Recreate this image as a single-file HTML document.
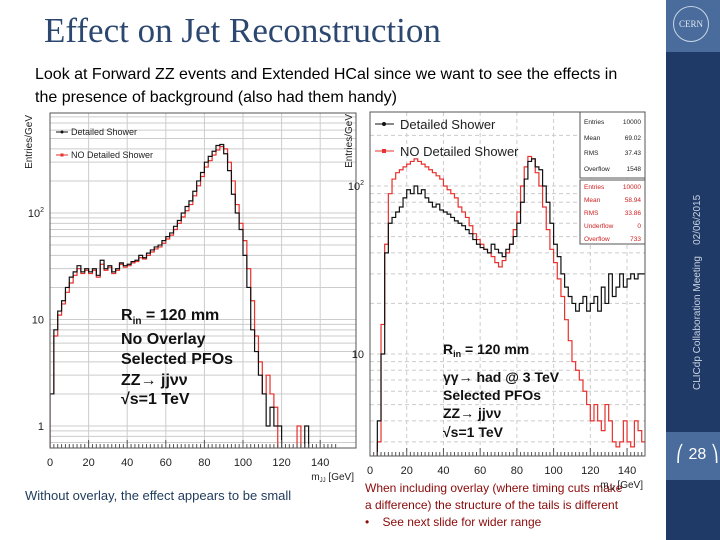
<!DOCTYPE html>
<html><head><meta charset="utf-8">
<style>
body{margin:0;width:720px;height:540px;overflow:hidden;background:#fff;font-family:"Liberation Sans",sans-serif;position:relative}
.t{position:absolute;white-space:nowrap}
</style></head>
<body>
<div class="t" style="left:44px;top:11px;font-family:'Liberation Serif',serif;font-size:35px;color:#2c4770">Effect on Jet Reconstruction</div>
<div class="t" style="left:35px;top:63px;font-size:16px;line-height:23px;color:#000">Look at Forward ZZ events and Extended HCal since we want to see the effects in<br>the presence of background (also had them handy)</div>
<div style="position:absolute;left:666px;top:0;width:54px;height:540px;background:#1f3a66"></div>
<div style="position:absolute;left:666px;top:0;width:54px;height:52px;background:#4a6c9c"></div>
<div style="position:absolute;left:673px;top:6px;width:34px;height:34px;border:1px solid #c8d4e6;border-radius:50%;color:#dfe6f0;font-size:9px;text-align:center;line-height:34px;font-family:'Liberation Serif',serif">CERN</div>
<div style="position:absolute;left:666px;top:432px;width:54px;height:48px;background:#4a6c9c"></div>
<div class="t" style="left:676px;top:444px;color:#fff;font-size:16px">⎛ 28 ⎞</div>
<div class="t" style="left:692px;top:390px;transform-origin:0 0;transform:rotate(-90deg);color:#c9d3e3;font-size:10px">CLICdp Collaboration Meeting &nbsp;&nbsp; 02/06/2015</div>
<div class="t" style="left:25px;top:488px;font-size:13px;color:#1f3a5c">Without overlay, the effect appears to be small</div>
<div class="t" style="left:365px;top:480px;font-size:12px;line-height:17px;color:#8b0a0a">When including overlay (where timing cuts make<br>a difference) the structure of the tails is different<br>•&nbsp;&nbsp;&nbsp; See next slide for wider range</div>

<svg id="chart" width="720" height="540" style="position:absolute;left:0;top:0"></svg>
<script>
const leftBlack=[2,8,12,15,20,25,28,32,28,30,28,30,26,36,30,32,28,30,34,32,33,35,36,40,38,42,45,48,50,55,60,65,75,85,100,115,130,160,200,240,300,340,380,430,440,360,250,150,100,70,40,20,8,5,3,2,1,1.5,1,1,0,0,0,0,0,0,1,0,0,0,0,0,0,0,0];
const leftRed=[2,7,11,14,18,22,26,30,27,29,27,29,25,33,29,31,27,29,33,31,32,34,35,38,37,40,43,46,48,52,57,62,70,80,92,105,120,145,180,220,270,310,350,390,420,400,300,200,120,80,55,30,15,7,4,2,3,2,1.5,0,0,0,0,0,1,0,0,0,0,0,0,0,0,0,0];
const rightBlack=[0,0,4,10,40,60,65,70,75,85,95,90,100,90,95,85,80,75,78,72,70,68,65,62,60,58,55,52,48,45,43,42,40,45,42,40,38,42,45,50,60,80,110,140,145,130,125,100,80,60,45,38,30,25,22,20,18,20,22,18,20,22,18,25,20,30,22,25,30,25,28,30,28,30,30];
const rightRed=[0,0,3,15,45,90,110,120,125,130,135,140,145,140,135,130,125,120,115,110,100,95,90,85,75,70,65,58,52,48,45,42,40,38,35,33,36,40,45,55,70,100,130,150,145,120,100,75,55,42,35,28,22,16,12,9,8,7,6,5,4,5,4,3.5,5,4,3,2.8,3,4,3,2.8,4,3.5,3];
const xTicks=[0,20,40,60,80,100,120,140];
const binW=2;
const NS="http://www.w3.org/2000/svg";
const svg=document.getElementById('chart');
function el(t,a,p){const e=document.createElementNS(NS,t);for(const k in a)e.setAttribute(k,a[k]);(p||svg).appendChild(e);return e;}
function plot(cfg){
 const g=el('g',{});
 
 
 const X=v=>cfg.x0+v*cfg.sx, Y=v=>cfg.y1-(Math.log10(v)-cfg.ly1)*cfg.dec;
 const clip=el('clipPath',{id:cfg.name+'-clip'},g);
 el('rect',{x:cfg.L,y:cfg.T,width:cfg.R-cfg.L,height:cfg.B-cfg.T},clip);
 for(const t of xTicks){const l=el('line',{x1:X(t),x2:X(t),y1:cfg.T,y2:cfg.B,stroke:'#ccc','stroke-dasharray':cfg.dash},g);}
 for(let d=-1;d<4;d++)for(let m=1;m<10;m++){const v=m*Math.pow(10,d);const y=Y(v);if(y<cfg.T||y>cfg.B)continue;const l=el('line',{x1:cfg.L,x2:cfg.R,y1:y,y2:y,stroke:'#ccc','stroke-dasharray':cfg.dash},g);}
 [[cfg.red,'#e8302c'],[cfg.black,'#111']].forEach(([arr,c],si)=>{
  let d='';
  arr.forEach((v,i)=>{const yy=v>0?Y(v):cfg.B+5;const x1=X(i*binW),x2=X((i+1)*binW);
   d+=(i===0?'M'+x1+','+(cfg.B+5):'')+'L'+x1+','+yy+'L'+x2+','+yy;});
  const p=el('path',{d:d,fill:'none',stroke:c,'stroke-width':1.2,'clip-path':'url(#'+cfg.name+'-clip)'},g);
  
  
 });
 const fr=el('rect',{x:cfg.L,y:cfg.T,width:cfg.R-cfg.L,height:cfg.B-cfg.T,fill:'none',stroke:'#555'},g);
 
 for(const t of xTicks){const tx=el('text',{x:X(t),y:cfg.B+18,'font-size':11,'text-anchor':'middle',fill:'#222'},g);tx.textContent=t;
  }
 for(let i=1;i<75;i++){const x=X(i*2);if(x>cfg.R)break;el('line',{x1:x,x2:x,y1:cfg.B,y2:cfg.B-(i%10==0?8:4),stroke:'#555'},g);}
 cfg.yLabels.forEach(([v,s])=>{const tx=el('text',{x:cfg.L-6,y:Y(v)+4,'font-size':11,'text-anchor':'end',fill:'#222'},g);tx.innerHTML=s;
  });
 const xt=el('text',{x:cfg.R-2,y:cfg.B+32,'font-size':10,'text-anchor':'end',fill:'#222'},g);xt.innerHTML='m<tspan font-size="6" dy="2">JJ</tspan><tspan dy="-2"> [GeV]</tspan>';
 
 const yt=el('text',{x:0,y:0,'font-size':10,'text-anchor':'end',fill:'#222',transform:'translate('+(cfg.L-18)+','+(cfg.T+2)+') rotate(-90)'},g);yt.textContent='Entries/GeV';
 
 return g;
}
plot({name:'left-plot',L:50,R:356,T:113,B:448,x0:50,sx:1.93,y1:426,ly1:0,dec:106.5,dash:'',black:leftBlack,red:leftRed,yLabels:[[1,'1'],[10,'10'],[100,'10<tspan font-size="7" dy="-5">2</tspan>']]});
plot({name:'right-plot',L:370,R:645,T:112,B:456,x0:370,sx:1.836,y1:354,ly1:1,dec:168,dash:'4,3',black:rightBlack,red:rightRed,yLabels:[[10,'10'],[100,'10<tspan font-size="7" dy="-5">2</tspan>']]});
</script>
<svg width="720" height="540" style="position:absolute;left:0;top:0">
<g font-size="9" fill="#222">
<line x1="56" y1="132" x2="68" y2="132" stroke="#111"/><circle cx="62" cy="132" r="1.5" fill="#111"/><text x="71" y="135">Detailed Shower</text>
<line x1="56" y1="155" x2="68" y2="155" stroke="#e8302c"/><rect x="60.5" y="153.5" width="3" height="3" fill="#e8302c"/><text x="71" y="158">NO Detailed Shower</text>
</g>
<g font-size="16" font-weight="bold" fill="#111">
<text x="121" y="320">R<tspan font-size="10" dy="4">in</tspan><tspan dy="-4"> = 120 mm</tspan></text>
<text x="121" y="344">No Overlay</text><text x="121" y="364">Selected PFOs</text>
<text x="121" y="385">ZZ→ jjνν</text><text x="121" y="404">√s=1 TeV</text>
</g>
<g font-size="13" fill="#222">
<line x1="375" y1="124" x2="394" y2="124" stroke="#111"/><circle cx="384" cy="124" r="2" fill="#111"/><text x="400" y="129">Detailed Shower</text>
<line x1="375" y1="151" x2="394" y2="151" stroke="#e8302c"/><rect x="382" y="149" width="4" height="4" fill="#e8302c"/><text x="400" y="156">NO Detailed Shower</text>
</g>
<g font-size="6.5" fill="#222">
<rect x="580" y="112" width="65" height="66" fill="#fff" stroke="#555"/>
<text x="584" y="124">Entries</text><text x="641" y="124" text-anchor="end">10000</text>
<text x="584" y="140">Mean</text><text x="641" y="140" text-anchor="end">69.02</text>
<text x="584" y="155">RMS</text><text x="641" y="155" text-anchor="end">37.43</text>
<text x="584" y="171">Overflow</text><text x="641" y="171" text-anchor="end">1548</text>
</g>
<g font-size="6.5" fill="#d02020">
<rect x="580" y="180" width="65" height="64" fill="#fff" stroke="#555"/>
<text x="584" y="189">Entries</text><text x="641" y="189" text-anchor="end">10000</text>
<text x="584" y="202">Mean</text><text x="641" y="202" text-anchor="end">58.94</text>
<text x="584" y="215">RMS</text><text x="641" y="215" text-anchor="end">33.86</text>
<text x="584" y="228">Underflow</text><text x="641" y="228" text-anchor="end">0</text>
<text x="584" y="241">Overflow</text><text x="641" y="241" text-anchor="end">733</text>
</g>
<g font-size="14" font-weight="bold" fill="#111">
<text x="443" y="354">R<tspan font-size="9" dy="3">in</tspan><tspan dy="-3"> = 120 mm</tspan></text>
<text x="443" y="382">γγ→ had @ 3 TeV</text><text x="443" y="400">Selected PFOs</text>
<text x="443" y="418">ZZ→ jjνν</text><text x="443" y="437">√s=1 TeV</text>
</g>
</svg>
</body></html>
